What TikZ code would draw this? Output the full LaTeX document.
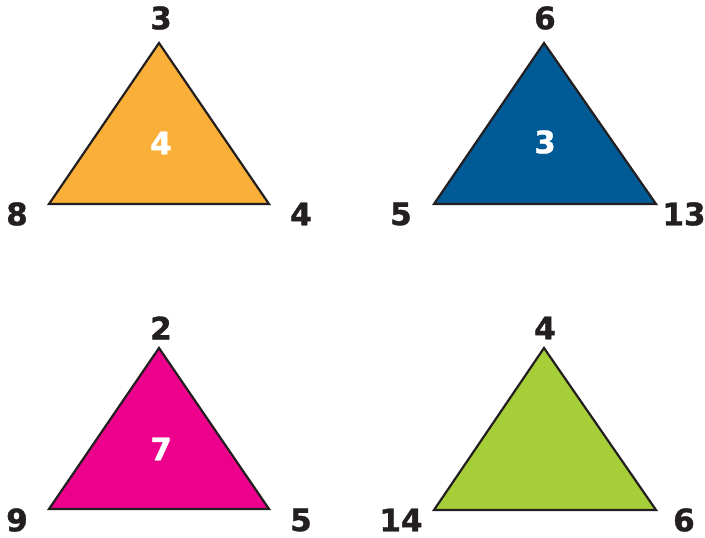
\documentclass[tikz,border=0pt]{standalone}
\usepackage{fontspec}
\setmainfont{DejaVu Sans}[BoldFeatures={FakeBold=1.2}]
\usetikzlibrary{positioning}
\definecolor{triorange}{RGB}{249,175,56}
\definecolor{triblue}{RGB}{0,90,150}
\definecolor{tripink}{RGB}{236,0,140}
\definecolor{trigreen}{RGB}{166,206,57}
\definecolor{inkdark}{RGB}{35,31,32}

\begin{document}
\begin{tikzpicture}[
  x=1pt, y=-1pt,
  tri/.style={draw=inkdark, line width=2.2pt, line join=miter},
  num/.style={font=\fontsize{31}{31}\selectfont\bfseries, text=inkdark, inner sep=0pt},
  mid/.style={font=\fontsize{31}{31}\selectfont\bfseries, text=white, inner sep=0pt},
]
\useasboundingbox (0,0) rectangle (705,538);

% ORANGE
\coordinate (o1) at (159,43);
\coordinate (o2) at (49,204);
\coordinate (o3) at (269,204);
\draw[tri, fill=triorange] (o1) -- (o2) -- (o3) -- cycle;
\node[num] (otop)   at (161,18)  {3};
\node[num] (oleft)  at (17,214)  {8};
\node[num] (oright) at (301,214) {4};
\node[mid] (omid)   at (161,143) {4};

% BLUE
\coordinate (b1) at (544,43);
\coordinate (b2) at (434,204);
\coordinate (b3) at (656,204);
\draw[tri, fill=triblue] (b1) -- (b2) -- (b3) -- cycle;
\node[num] (btop)   at (545,18)  {6};
\node[num] (bleft)  at (401,214) {5};
\node[num] (bright) at (684,214) {13};
\node[mid] (bmid)   at (545,142) {3};

% PINK
\coordinate (p1) at (159,348);
\coordinate (p2) at (49,509);
\coordinate (p3) at (269,509);
\draw[tri, fill=tripink] (p1) -- (p2) -- (p3) -- cycle;
\node[num] (ptop)   at (161,328) {2};
\node[num] (pleft)  at (17,520)  {9};
\node[num] (pright) at (301,520) {5};
\node[mid] (pmid)   at (161,449) {7};

% GREEN
\coordinate (g1) at (544,348);
\coordinate (g2) at (434,510);
\coordinate (g3) at (656,510);
\draw[tri, fill=trigreen] (g1) -- (g2) -- (g3) -- cycle;
\node[num] (gtop)   at (545,328) {4};
\node[num] (gleft)  at (401,520) {14};
\node[num] (gright) at (684,520) {6};

\end{tikzpicture}
\end{document}
